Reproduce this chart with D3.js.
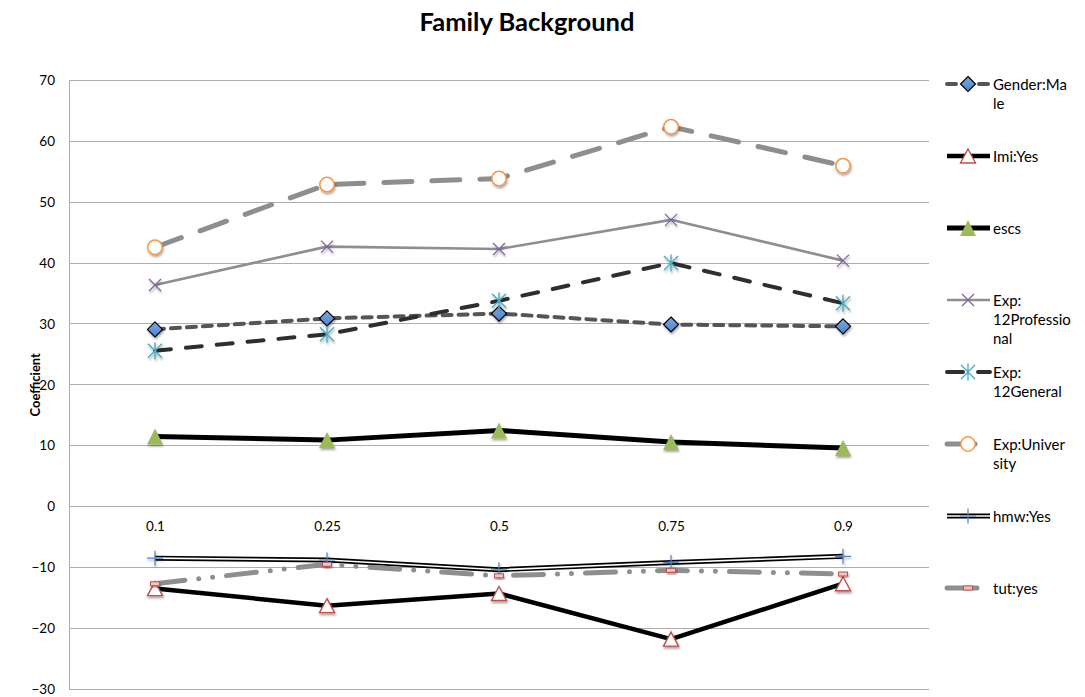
<!DOCTYPE html>
<html>
<head>
<meta charset="utf-8">
<script src="https://cdn.jsdelivr.net/npm/d3@7"></script>
<style>
  html, body { margin: 0; padding: 0; background: #fff; }
  svg { display: block; font-family: Lato, "Open Sans", sans-serif; }
</style>
</head>
<body>
<svg id="chart" width="1085" height="697"></svg>
<script>
// Quantile levels along the category axis
const categories = ["0.1", "0.25", "0.5", "0.75", "0.9"];

// Coefficient estimates per quantile
const genderMale        = [29.1, 30.9, 31.7, 29.9, 29.6];
const imiYes            = [-13.5, -16.3, -14.3, -21.8, -12.7];
const escs              = [11.5, 10.9, 12.5, 10.6, 9.6];
const exp12Professional = [36.4, 42.7, 42.3, 47.1, 40.4];
const exp12General      = [25.6, 28.3, 33.8, 40.0, 33.4];
const expUniversity     = [42.6, 52.9, 53.9, 62.4, 56.0];
const hmwYes            = [-8.5, -8.8, -10.4, -9.2, -8.2];
const tutYes            = [-12.7, -9.5, -11.4, -10.5, -11.1];

// Legend labels, wrapped over lines
const legendLabels = [
  ["Gender:Ma", "le"],
  ["Imi:Yes"],
  ["escs"],
  ["Exp:", "12Professio", "nal"],
  ["Exp:", "12General"],
  ["Exp:Univer", "sity"],
  ["hmw:Yes"],
  ["tut:yes"]
];

const yTicks = [-30, -20, -10, 0, 10, 20, 30, 40, 50, 60, 70];

// Styling for each series: line look and marker type
const seriesStyle = [
  { values: genderMale,        stroke: "#555555", width: 4,   dash: "9 7",  marker: "diamond" },
  { values: imiYes,            stroke: "#000000", width: 4.5, dash: null,    marker: "triangleOpen" },
  { values: escs,              stroke: "#000000", width: 5,   dash: null,    marker: "triangleFill" },
  { values: exp12Professional, stroke: "#8e8e8e", width: 2.6, dash: null,    marker: "x" },
  { values: exp12General,      stroke: "#2e2e2e", width: 4,   dash: "16 15", marker: "asterisk" },
  { values: expUniversity,     stroke: "#8e8e8e", width: 5,   dash: "28 20", marker: "circle" },
  { values: hmwYes,            stroke: "#000000", width: 5,   dash: null,    marker: "plus", double: true },
  { values: tutYes,            stroke: "#8e8e8e", width: 5,   dash: "30 14 0 14 0 14", marker: "dash" }
];

const svg = d3.select("#chart");

const x = d3.scalePoint().domain(categories).range([69, 929]).padding(0.5);
const y = d3.scaleLinear().domain([-30, 70]).range([689, 80.5]);

// Soft shadow under markers
const defs = svg.append("defs");
const sh = defs.append("filter").attr("id", "mshadow")
  .attr("x", "-50%").attr("y", "-50%").attr("width", "200%").attr("height", "200%");
sh.append("feDropShadow").attr("dx", 0.8).attr("dy", 2).attr("stdDeviation", 1.3)
  .attr("flood-color", "#000").attr("flood-opacity", 0.35);

const grad = defs.append("linearGradient").attr("id", "blueFill")
  .attr("x1", 0).attr("y1", 0).attr("x2", 0).attr("y2", 1);
grad.append("stop").attr("offset", "0%").attr("stop-color", "#7aa8e6");
grad.append("stop").attr("offset", "100%").attr("stop-color", "#4f83cc");

// Title
svg.append("text")
  .attr("x", 527).attr("y", 31)
  .attr("text-anchor", "middle")
  .attr("font-size", 25.5).attr("font-weight", "bold").attr("fill", "#000")
  .text("Family Background");

// Horizontal gridlines
svg.append("g").selectAll("line").data(yTicks).join("line")
  .attr("x1", 69).attr("x2", 929)
  .attr("y1", d => y(d)).attr("y2", d => y(d))
  .attr("stroke", "#adadad").attr("stroke-width", 1)
  .attr("shape-rendering", "crispEdges");

// Value axis
const yAxis = svg.append("g").attr("transform", "translate(69,0)")
  .call(d3.axisLeft(y).tickValues(yTicks).tickSize(0).tickPadding(14).tickFormat(d3.format("d")));
yAxis.select(".domain").attr("stroke", "#adadad").attr("shape-rendering", "crispEdges");
yAxis.selectAll("text").attr("font-size", 13.5).attr("fill", "#000")
  .attr("font-family", "Lato, 'Open Sans', sans-serif");

// Axis title
svg.append("text")
  .attr("transform", `translate(40,${(y(70) + y(-30)) / 2}) rotate(-90)`)
  .attr("text-anchor", "middle")
  .attr("font-size", 13).attr("font-weight", "bold").attr("fill", "#000")
  .text("Coefficient");

// Category axis, crossing at zero
const xAxis = svg.append("g").attr("transform", `translate(0,${y(0)})`)
  .call(d3.axisBottom(x).tickSize(0).tickPadding(15));
xAxis.select(".domain").remove();
xAxis.selectAll("text").attr("font-size", 13.5).attr("fill", "#000")
  .attr("font-family", "Lato, 'Open Sans', sans-serif");

// Marker drawing
function drawMarker(g, type) {
  switch (type) {
    case "diamond":
      g.append("path").attr("d", "M0,-7.5L7.5,0L0,7.5L-7.5,0Z")
        .attr("fill", "url(#blueFill)").attr("stroke", "#000").attr("stroke-width", 1.2);
      break;
    case "triangleOpen":
      g.append("path").attr("d", "M0,-7L7.5,7L-7.5,7Z")
        .attr("fill", "#fff").attr("stroke", "#c0504d").attr("stroke-width", 1.4);
      break;
    case "triangleFill":
      g.append("path").attr("d", "M0,-8L8,8L-8,8Z").attr("fill", "#9bbb59");
      break;
    case "x":
      g.append("path").attr("d", "M-6,-6L6,6M-6,6L6,-6")
        .attr("stroke", "#8064a2").attr("stroke-width", 1.3).attr("fill", "none");
      break;
    case "asterisk":
      g.append("path").attr("d", "M-7,-7L7,7M-7,7L7,-7M0,-8.5L0,8.5")
        .attr("stroke", "#4bacc6").attr("stroke-width", 1.4).attr("fill", "none");
      break;
    case "circle":
      g.append("circle").attr("r", 7.2)
        .attr("fill", "#fff").attr("stroke", "#f79646").attr("stroke-width", 1.5);
      break;
    case "plus":
      g.append("path").attr("d", "M-8,0L8,0M0,-7.5L0,7.5")
        .attr("stroke", "#4f81bd").attr("stroke-width", 1.2).attr("fill", "none");
      break;
    case "dash":
      g.append("rect").attr("x", -4.5).attr("y", -2).attr("width", 9).attr("height", 4)
        .attr("fill", "#f2c4c3").attr("stroke", "#c0504d").attr("stroke-width", 1);
      break;
  }
}

function styleLine(sel, s) {
  sel.attr("fill", "none")
    .attr("stroke", s.stroke)
    .attr("stroke-width", s.width)
    .attr("stroke-linecap", s.dash ? "round" : "butt")
    .attr("stroke-linejoin", "round")
    .attr("stroke-dasharray", s.dash);
}

const line = d3.line().x((d, i) => x(categories[i])).y(d => y(d));

// Series lines with markers
seriesStyle.forEach(s => {
  const g = svg.append("g");
  g.append("path").datum(s.values).attr("d", line).call(styleLine, s);
  if (s.double) {
    g.append("path").datum(s.values).attr("d", line)
      .attr("fill", "none").attr("stroke", "#fff").attr("stroke-width", 1.6)
      .attr("stroke-linejoin", "round");
  }
  s.values.forEach((v, i) => {
    const m = g.append("g")
      .attr("transform", `translate(${x(categories[i])},${y(v)})`)
      .attr("filter", "url(#mshadow)");
    drawMarker(m, s.marker);
  });
});

// Legend
const legend = svg.append("g");
seriesStyle.forEach((s, i) => {
  const ly = 84 + i * 72;
  const item = legend.append("g");
  item.append("path").attr("d", `M947,${ly}L990,${ly}`).call(styleLine, s);
  if (s.double) {
    item.append("path").attr("d", `M947,${ly}L990,${ly}`)
      .attr("stroke", "#fff").attr("stroke-width", 1.6);
  }
  const m = item.append("g").attr("transform", `translate(968,${ly})`);
  drawMarker(m, s.marker);
  const t = item.append("text").attr("x", 993).attr("y", ly + 5.5)
    .attr("font-size", 15).attr("fill", "#000");
  legendLabels[i].forEach((ln, k) => {
    t.append("tspan").attr("x", 993).attr("dy", k === 0 ? 0 : 19).text(ln);
  });
});
</script>
</body>
</html>
